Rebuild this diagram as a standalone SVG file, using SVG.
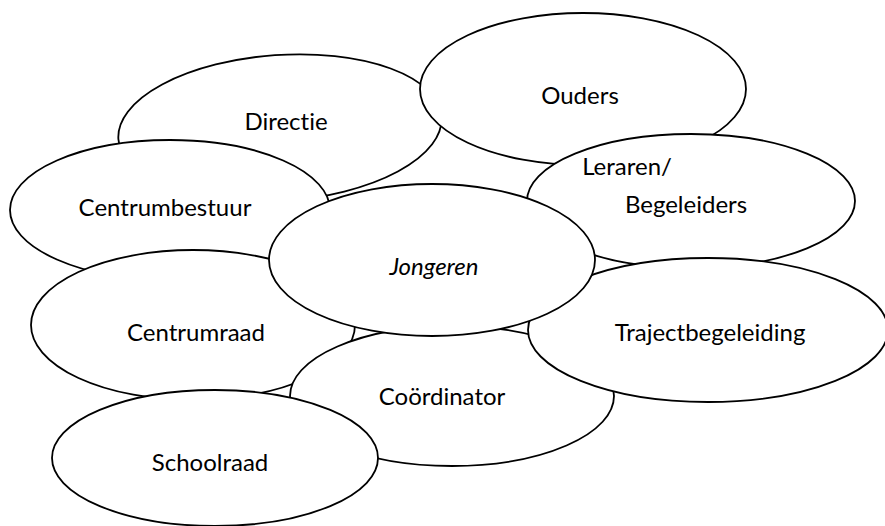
<svg xmlns="http://www.w3.org/2000/svg" width="885" height="526" viewBox="0 0 885 526">
<style>
.n ellipse{fill:#fff;stroke:#000;stroke-width:1.8}
.n text{font-family:Lato,"Open Sans",sans-serif;font-size:24px;fill:#000;text-anchor:middle;font-variant-ligatures:none}
</style>
<rect width="885" height="526" fill="#fff"/>
<g id="connectors"></g>
<g id="directie" class="n"><ellipse cx="280" cy="128" rx="162" ry="73" transform="rotate(-4 280 128)"/><text x="286" y="130">Directie</text></g>
<g id="ouders" class="n"><ellipse cx="583" cy="89" rx="163" ry="76"/><text x="580" y="104">Ouders</text></g>
<g id="leraren" class="n"><ellipse cx="691" cy="201" rx="164" ry="67"/><text x="627" y="175">Leraren/</text><text x="686" y="213">Begeleiders</text></g>
<g id="centrumbestuur" class="n"><ellipse cx="170" cy="210" rx="160" ry="70"/><text x="165" y="216">Centrumbestuur</text></g>
<g id="centrumraad" class="n"><ellipse cx="193" cy="325" rx="162" ry="75"/><text x="196" y="341">Centrumraad</text></g>
<g id="coordinator" class="n"><ellipse cx="452" cy="396" rx="162" ry="70"/><text x="442" y="405">Coördinator</text></g>
<g id="trajectbegeleiding" class="n"><ellipse cx="708" cy="330" rx="180" ry="72"/><text x="710" y="341">Trajectbegeleiding</text></g>
<g id="schoolraad" class="n"><ellipse cx="215" cy="458" rx="163" ry="68"/><text x="210" y="471">Schoolraad</text></g>
<g id="jongeren" class="n"><ellipse cx="432" cy="260" rx="163" ry="76"/><text x="434" y="275" font-style="italic">Jongeren</text></g>
</svg>
